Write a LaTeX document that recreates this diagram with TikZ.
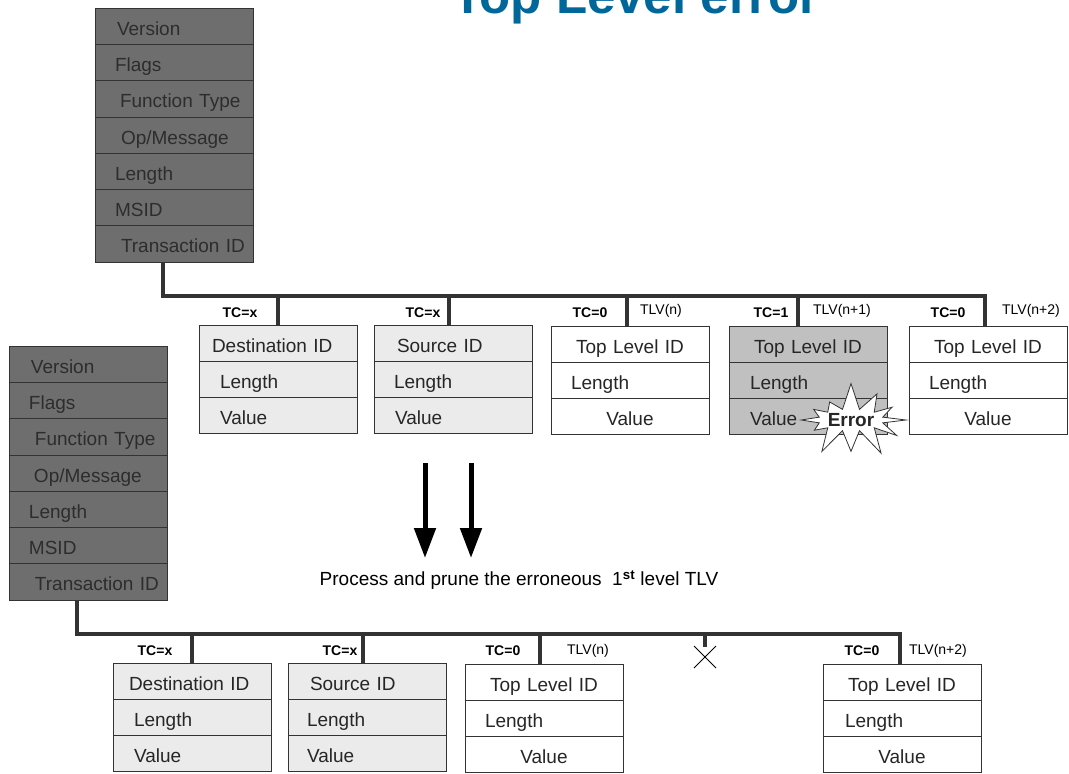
\documentclass[tikz,border=0pt]{standalone}
\usepackage{fontspec}
\setmainfont{Liberation Sans}
\usepackage{tikz}
\usetikzlibrary{positioning,arrows.meta,shapes.symbols}
\definecolor{titleblue}{RGB}{0,103,155}
\definecolor{hdrfill}{RGB}{110,110,110}
\definecolor{hdrtext}{RGB}{45,45,45}
\definecolor{lightfill}{RGB}{235,235,235}
\definecolor{errfill}{RGB}{192,192,192}
\definecolor{linec}{RGB}{51,51,51}
\definecolor{txtc}{RGB}{38,38,38}
\tikzset{>=Triangle}

\begin{document}
\begin{tikzpicture}[x=1pt, y=-1pt, font=\fontsize{19}{22}\selectfont, text=txtc]
                \useasboundingbox (0,0) rectangle (1069,774);
                \clip (0,0) rectangle (1069,774);
                % hdr = message header row, cell = one row of a TLV box
                \tikzstyle{hdr}=[draw=linec, fill=hdrfill, text=hdrtext, line width=0.8pt, text width=158pt, minimum height=36.3pt, text height=18pt, text depth=0pt, inner xsep=0pt, inner ysep=0pt, outer sep=0pt, anchor=north west, align=left]
                \tikzstyle{cell}=[draw=linec, line width=0.8pt, text width=158pt, minimum height=36pt, text height=18pt, text depth=0pt, inner xsep=0pt, inner ysep=0pt, outer sep=0pt, anchor=north west, align=left]
                \tikzstyle{cellc}=[cell, align=center]
                \tikzstyle{bus}=[draw=linec, line width=4pt]
                \tikzstyle{tc}=[font=\fontsize{14}{16}\selectfont\bfseries, text=black]
                \tikzstyle{tlv}=[font=\fontsize{14}{16}\selectfont, text=black]
                \tikzstyle{bigarrow}=[line width=5pt, -{Triangle[width=21pt,length=30pt]}]

                \node[font=\fontsize{51}{51}\selectfont\bfseries, text=titleblue, anchor=base] (title) at (636,13) {Top Level error};

                % upper message
                \foreach \t [count=\i] in {\hspace*{22pt}Version, \hspace*{20pt}Flags, \hspace*{25pt}Function Type, \hspace*{26pt}Op/Message, \hspace*{20pt}Length, \hspace*{20pt}MSID, \hspace*{26pt}Transaction ID}
                        \node[hdr] (hA\i) at (95, 8+36.3*\i-36.3) {\t};

                \coordinate (busA) at (163,296);
                \coordinate (busAend) at (987,296);
                \draw[bus] (hA7.south -| busA) -- (busA) -- (busAend);

                \node[cell, fill=lightfill] (dA1) at (199,325) {\hspace*{13pt}Destination ID};
                \node[cell, fill=lightfill, below=0pt of dA1] (dA2) {\hspace*{21pt}Length};
                \node[cell, fill=lightfill, below=0pt of dA2] (dA3) {\hspace*{21pt}Value};

                \node[cell, fill=lightfill] (sA1) at (374,325) {\hspace*{23pt}Source ID};
                \node[cell, fill=lightfill, below=0pt of sA1] (sA2) {\hspace*{20pt}Length};
                \node[cell, fill=lightfill, below=0pt of sA2] (sA3) {\hspace*{21pt}Value};

                \node[cellc, fill=white] (tA1) at (551,326) {Top Level ID};
                \node[cell, fill=white, below=0pt of tA1] (tA2) {\hspace*{20pt}Length};
                \node[cellc, fill=white, below=0pt of tA2] (tA3) {Value};

                \node[cellc, fill=errfill] (eA1) at (729,326) {Top Level ID};
                \node[cell, fill=errfill, below=0pt of eA1] (eA2) {\hspace*{21pt}Length};
                \node[cell, fill=errfill, below=0pt of eA2] (eA3) {\hspace*{21pt}Value};

                \node[cellc, fill=white] (uA1) at (909,326) {Top Level ID};
                \node[cell, fill=white, below=0pt of uA1] (uA2) {\hspace*{20pt}Length};
                \node[cellc, fill=white, below=0pt of uA2] (uA3) {Value};

                \draw[bus] (dA1.north) -- (dA1.north |- busA);
                \draw[bus] ([xshift=-4pt]sA1.north) -- ([xshift=-4pt]sA1.north |- busA);
                \draw[bus] ([xshift=-3pt]tA1.north) -- ([xshift=-3pt]tA1.north |- busA);
                \draw[bus] ([xshift=-10pt]eA1.north) -- ([xshift=-10pt]eA1.north |- busA);
                \draw[bus] ([xshift=-3pt]uA1.north) -- ([xshift=-3pt]uA1.north |- busA);

                \node[tc] (tcA1) at (240,313) {TC=x};
                \node[tc] (tcA2) at (423,313) {TC=x};
                \node[tc] (tcA3) at (590,313) {TC=0};
                \node[tlv] (tlvA3) at (661,311) {TLV(n)};
                \node[tc] (tcA4) at (771,313) {TC=1};
                \node[tlv] (tlvA4) at (842,311) {TLV(n+1)};
                \node[tc] (tcA5) at (948,313) {TC=0};
                \node[tlv] (tlvA5) at (1031,311) {TLV(n+2)};

                \node[starburst, starburst points=12, starburst point height=28pt, random starburst=7, draw=linec, fill=white, line width=0.8pt, minimum width=110pt, minimum height=78pt, inner sep=0pt, font=\fontsize{19}{22}\selectfont\bfseries] (err) at (851,420) {Error};

                % processing step
                \coordinate (arr1s) at (425,463);
                \coordinate (arr1e) at (425,558);
                \coordinate (arr2s) at (471,463);
                \coordinate (arr2e) at (471,558);
                \draw[bigarrow] (arr1s) -- (arr1e);
                \draw[bigarrow] (arr2s) -- (arr2e);
                \node[font=\fontsize{19}{21}\selectfont, text=black] (note) at (519,580) {Process and prune the erroneous \ 1\textsuperscript{\bfseries st} level TLV};

                % lower message
                \foreach \t [count=\i] in {\hspace*{22pt}Version, \hspace*{20pt}Flags, \hspace*{26pt}Function Type, \hspace*{25pt}Op/Message, \hspace*{20pt}Length, \hspace*{20pt}MSID, \hspace*{26pt}Transaction ID}
                        \node[hdr] (hB\i) at (9, 346+36.3*\i-36.3) {\t};

                \coordinate (busB) at (77,634);
                \coordinate (busBend) at (902,634);
                \draw[bus] (hB7.south -| busB) -- (busB) -- (busBend);

                \node[cell, fill=lightfill] (dB1) at (113,663) {\hspace*{16pt}Destination ID};
                \node[cell, fill=lightfill, below=0pt of dB1] (dB2) {\hspace*{21pt}Length};
                \node[cell, fill=lightfill, below=0pt of dB2] (dB3) {\hspace*{21pt}Value};

                \node[cell, fill=lightfill] (sB1) at (288,663) {\hspace*{22pt}Source ID};
                \node[cell, fill=lightfill, below=0pt of sB1] (sB2) {\hspace*{19pt}Length};
                \node[cell, fill=lightfill, below=0pt of sB2] (sB3) {\hspace*{19pt}Value};

                \node[cellc, fill=white] (tB1) at (465,664) {Top Level ID};
                \node[cell, fill=white, below=0pt of tB1] (tB2) {\hspace*{20pt}Length};
                \node[cellc, fill=white, below=0pt of tB2] (tB3) {Value};

                \node[cellc, fill=white] (uB1) at (823,664) {Top Level ID};
                \node[cell, fill=white, below=0pt of uB1] (uB2) {\hspace*{22pt}Length};
                \node[cellc, fill=white, below=0pt of uB2] (uB3) {Value};

                \draw[bus] (dB1.north) -- (dB1.north |- busB);
                \draw[bus] ([xshift=-4pt]sB1.north) -- ([xshift=-4pt]sB1.north |- busB);
                \draw[bus] ([xshift=-4pt]tB1.north) -- ([xshift=-4pt]tB1.north |- busB);
                \draw[bus] ([xshift=-2pt]uB1.north) -- ([xshift=-2pt]uB1.north |- busB);

                % pruned TLV(n+1)
                \coordinate (cut) at (705,657);
                \draw[bus] (cut |- busB) -- ([yshift=10pt]cut);
                \draw[line width=0.8pt, black] ([shift={(-11,-11)}]cut) -- ([shift={(11,11)}]cut);
                \draw[line width=0.8pt, black] ([shift={(-11,11)}]cut) -- ([shift={(11,-11)}]cut);

                \node[tc] (tcB1) at (155,651) {TC=x};
                \node[tc] (tcB2) at (340,651) {TC=x};
                \node[tc] (tcB3) at (503,651) {TC=0};
                \node[tlv] (tlvB3) at (588,651) {TLV(n)};
                \node[tc] (tcB4) at (862,651) {TC=0};
                \node[tlv] (tlvB4) at (938,651) {TLV(n+2)};
\end{tikzpicture}
\end{document}
